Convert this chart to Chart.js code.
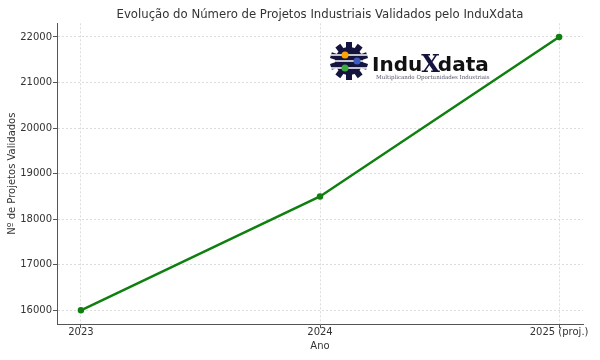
<!DOCTYPE html>
<html><head><meta charset="utf-8">
<script src="https://cdn.jsdelivr.net/npm/chart.js@4/dist/chart.umd.min.js"></script>
<style>html,body{margin:0;padding:0;background:#fff}#wrap{width:600px;height:360px}</style>
</head><body><div id="wrap"><canvas id="c" width="600" height="360"></canvas></div>
<script>
const categories = ["2023", "2024", "2025 (proj.)"];
const projetos = [16000, 18500, 22000];
const yTicks = [16000, 17000, 18000, 19000, 20000, 21000, 22000];
const chartTitle = "Evolução do Número de Projetos Industriais Validados pelo InduXdata";
const xTitle = "Ano";
const yTitle = "Nº de Projetos Validados";
const logoName = "InduXdata";
const logoTagline = "Multiplicando Oportunidades Industriais";

const FONT = "'DejaVu Sans', sans-serif";

const titlePlugin = {
  id: 'plotTitle',
  afterDraw(chart) {
    const ctx = chart.ctx, a = chart.chartArea;
    ctx.save();
    ctx.fillStyle = '#333';
    ctx.font = "11.7px 'DejaVu Sans', sans-serif";
    ctx.textAlign = 'center';
    ctx.textBaseline = 'middle';
    ctx.fillText(chartTitle, (a.left + a.right) / 2, 14.5);
    ctx.restore();
  }
};

const logoPlugin = {
  id: 'logo',
  afterDatasetsDraw(chart) {
    const ctx = chart.ctx;
    ctx.save();
    ctx.fillStyle = '#fff';
    ctx.fillRect(328, 42, 162, 40);
    // gear
    const cx = 349, cy = 61, r = 14;
    ctx.fillStyle = '#14143f';
    for (let i = 0; i < 10; i++) {
      ctx.save();
      ctx.translate(cx, cy);
      ctx.rotate(i * Math.PI / 5);
      ctx.fillRect(-3, -r - 5, 6, 7);
      ctx.restore();
    }
    ctx.beginPath(); ctx.arc(cx, cy, r, 0, Math.PI * 2); ctx.fill();
    ctx.strokeStyle = '#fff'; ctx.lineWidth = 1.5;
    [[-6, 'orange'], [0, '#3b5bbf'], [7, '#3caa3c']].forEach(([dy, col], k) => {
      ctx.beginPath(); ctx.moveTo(cx - 18, cy + dy); ctx.lineTo(cx + 18, cy + dy); ctx.stroke();
      ctx.fillStyle = col;
      ctx.beginPath(); ctx.arc(cx + (k === 1 ? 8 : -4), cy + dy, 3.5, 0, Math.PI * 2); ctx.fill();
    });
    // text
    ctx.textBaseline = 'alphabetic';
    ctx.textAlign = 'left';
    ctx.fillStyle = '#111';
    ctx.font = "bold 20px 'DejaVu Sans', sans-serif";
    ctx.fillText("Indu", 372, 71);
    const w = ctx.measureText("Indu").width;
    ctx.fillStyle = '#14143f';
    ctx.font = "bold 24px 'DejaVu Serif', serif";
    ctx.fillText("X", 372 + w - 1, 72);
    const w2 = ctx.measureText("X").width;
    ctx.fillStyle = '#111';
    ctx.font = "bold 20px 'DejaVu Sans', sans-serif";
    ctx.fillText("data", 372 + w + w2 - 3, 71);
    ctx.fillStyle = '#556';
    ctx.font = "5.5px 'DejaVu Serif', serif";
    ctx.fillText(logoTagline, 376, 78.5);
    ctx.restore();
  }
};

new Chart(document.getElementById('c'), {
  type: 'line',
  data: {
    datasets: [{
      data: projetos.map((v, i) => ({ x: i, y: v })),
      borderColor: '#0f800f',
      backgroundColor: '#0f800f',
      borderWidth: 2.5,
      pointRadius: 2,
      pointHoverRadius: 2,
      tension: 0,
      fill: false
    }]
  },
  options: {
    responsive: false,
    animation: false,
    devicePixelRatio: 1,
    layout: { padding: { left: 0, right: 17, top: 23.3, bottom: 0 } },
    plugins: {
      legend: { display: false },
      tooltip: { enabled: false },
      title: { display: false }
    },
    scales: {
      x: {
        type: 'linear', min: -0.1, max: 2.1,
        afterBuildTicks(s) { s.ticks = categories.map((c, i) => ({ value: i })); },
        afterFit(s) { s.height = 36; },
        ticks: {
          callback: (v) => categories[v] ?? '',
          color: '#333', font: { family: FONT, size: 10 }, padding: -2, maxRotation: 0, autoSkip: false
        },
        grid: { color: '#dcdcdc', tickColor: '#555', tickLength: 4, tickBorderDash: [] },
        border: { display: true, color: '#555', width: 1, dash: [2, 2] },
        title: { display: true, text: xTitle, color: '#333', font: { family: FONT, size: 10 }, padding: { top: 0, bottom: 8 } }
      },
      y: {
        min: 15700, max: 22300,
        afterBuildTicks(s) { s.ticks = yTicks.map(v => ({ value: v })); },
        afterFit(s) { s.width = 57; },
        ticks: { color: '#333', font: { family: FONT, size: 10 }, padding: 1, callback: v => String(v) },
        grid: { color: '#dcdcdc', tickColor: '#555', tickLength: 4, tickBorderDash: [] },
        border: { display: true, color: '#555', width: 1, dash: [2, 2] },
        title: { display: true, text: yTitle, color: '#333', font: { family: FONT, size: 10 }, padding: { top: 6, bottom: 0 } }
      }
    }
  },
  plugins: [logoPlugin, titlePlugin]
});
</script></body></html>
